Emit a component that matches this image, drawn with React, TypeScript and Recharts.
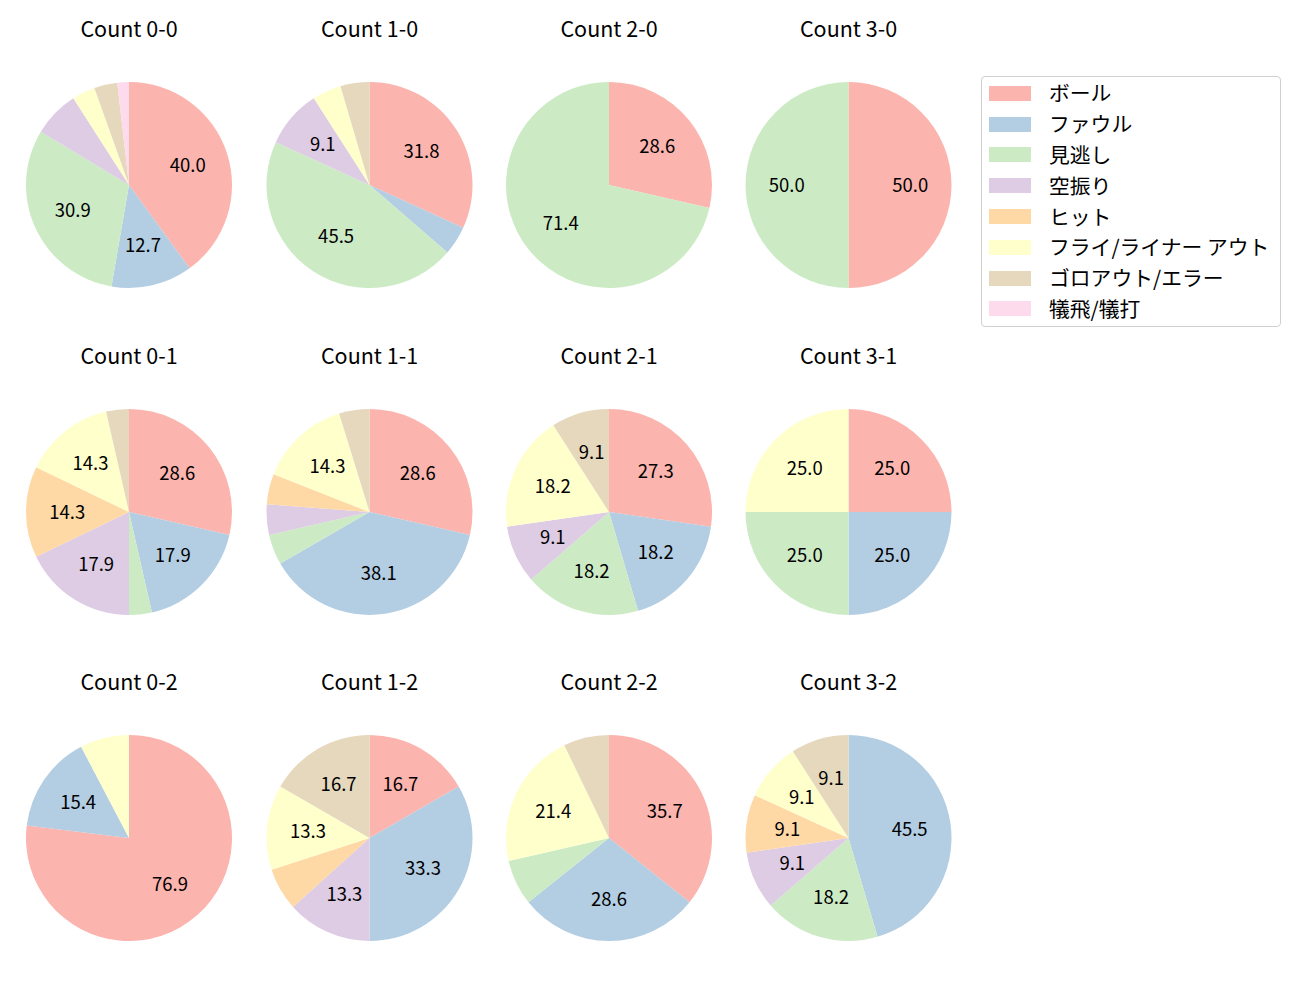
import React from "react";
import { PieChart, Pie, Cell } from "recharts";

// pitch result categories (legend order)
const categories = [
  "ボール",
  "ファウル",
  "見逃し",
  "空振り",
  "ヒット",
  "フライ/ライナー アウト",
  "ゴロアウト/エラー",
  "犠飛/犠打",
];

// matplotlib Pastel1
const colors = ["#fbb4ae", "#b3cde3", "#ccebc5", "#decbe4", "#fed9a6", "#ffffcc", "#e5d8bd", "#fddaec"];

// grid order: row by row
const countLabels = ["0-0", "1-0", "2-0", "3-0", "0-1", "1-1", "2-1", "3-1", "0-2", "1-2", "2-2", "3-2"];

// pitches per category, same order as categories
const c00 = [22, 7, 17, 4, 0, 2, 2, 1];
const c10 = [7, 1, 10, 2, 0, 1, 1, 0];
const c20 = [2, 0, 5, 0, 0, 0, 0, 0];
const c30 = [1, 0, 1, 0, 0, 0, 0, 0];
const c01 = [8, 5, 1, 5, 4, 4, 1, 0];
const c11 = [6, 8, 1, 1, 1, 3, 1, 0];
const c21 = [3, 2, 2, 1, 0, 2, 1, 0];
const c31 = [1, 1, 1, 0, 0, 1, 0, 0];
const c02 = [10, 2, 0, 0, 0, 1, 0, 0];
const c12 = [5, 10, 0, 4, 2, 4, 5, 0];
const c22 = [5, 4, 1, 0, 0, 3, 1, 0];
const c32 = [0, 5, 2, 1, 1, 1, 1, 0];

const countValues = [c00, c10, c20, c30, c01, c11, c21, c31, c02, c12, c22, c32];

const colX = [129, 369.5, 609, 848.5];
const rowY = [185, 512, 838];
const titleY = [28, 355, 681];
const R = 103;
const FONT = "'Noto Sans CJK JP', 'Noto Sans', sans-serif";

const RADIAN = Math.PI / 180;

const renderLabel = (props: any) => {
  const { cx, cy, midAngle, outerRadius, percent } = props;
  if (percent < 0.085) return null;
  const r = outerRadius * 0.6;
  const x = cx + r * Math.cos(-midAngle * RADIAN);
  const y = cy + r * Math.sin(-midAngle * RADIAN);
  return (
    <text
      x={x}
      y={y - 1.5}
      fill="#000"
      textAnchor="middle"
      dominantBaseline="central"
      fontSize={18.5}
      fontFamily={FONT}
    >
      {(percent * 100).toFixed(1)}
    </text>
  );
};

export default function App() {
  return (
    <div style={{ position: "absolute", left: 0, top: 0, width: 1300, height: 1000, background: "#fff", fontFamily: FONT }}>
      <PieChart
        width={1300}
        height={1000}
        margin={{ top: 0, right: 0, bottom: 0, left: 0 }}
        style={{ position: "absolute", left: 0, top: 0 }}
      >
        {countValues.map((vals, i) => {
          const data = vals
            .map((v, k) => ({ name: categories[k], value: v, color: colors[k] }))
            .filter((d) => d.value > 0);
          return (
            <Pie
              key={countLabels[i]}
              data={data}
              dataKey="value"
              nameKey="name"
              cx={colX[i % 4]}
              cy={rowY[Math.floor(i / 4)]}
              outerRadius={R}
              startAngle={90}
              endAngle={-270}
              stroke="none"
              labelLine={false}
              label={renderLabel}
              isAnimationActive={false}
            >
              {data.map((d) => (
                <Cell key={d.name} fill={d.color} />
              ))}
            </Pie>
          );
        })}
      </PieChart>

      {countLabels.map((c, i) => (
        <div
          key={"t" + c}
          style={{
            position: "absolute",
            left: colX[i % 4] - 100,
            width: 200,
            top: titleY[Math.floor(i / 4)] - 13,
            height: 26,
            lineHeight: "26px",
            textAlign: "center",
            fontSize: 21.5,
            color: "#000",
          }}
        >
          Count {c}
        </div>
      ))}

      <div
        style={{
          position: "absolute",
          left: 981,
          top: 76,
          width: 298,
          height: 249,
          border: "1px solid #d0d0d0",
          borderRadius: 4,
          boxSizing: "content-box",
        }}
      >
        {categories.map((name, k) => (
          <div
            key={name}
            style={{ position: "absolute", left: 0, top: 16.3 + k * 30.8 - 15, height: 30, width: 298 }}
          >
            <div
              style={{
                position: "absolute",
                left: 7,
                top: 7.5,
                width: 42,
                height: 15,
                background: colors[k],
              }}
            />
            <div
              style={{
                position: "absolute",
                left: 67,
                top: -1,
                height: 30,
                lineHeight: "30px",
                fontSize: 20.8,
                color: "#000",
                whiteSpace: "nowrap",
              }}
            >
              {name}
            </div>
          </div>
        ))}
      </div>
    </div>
  );
}
